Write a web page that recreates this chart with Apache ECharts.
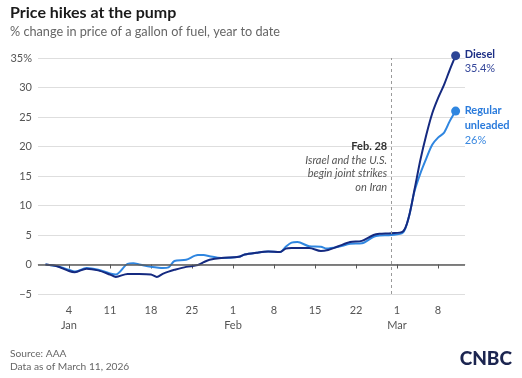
<!DOCTYPE html>
<html>
<head>
<meta charset="utf-8">
<script src="https://cdn.jsdelivr.net/npm/echarts@6/dist/echarts.min.js"></script>
<style>
html,body{margin:0;padding:0;background:#fff;}
#c{width:522px;height:378px;}
</style>
</head>
<body>
<div id="c"></div>
<script>
// Day of year (Dec 31 = 0, Jan 1 = 1, ... Mar 11 = 70)
var days = [0,2,4,5,7,9,11,12,14,15,16,18,19,20,21,22,24,26,27,28,30,33,34,36,38,40,41,42,43,45,47,48,50,52,54,56,57,59,61,62,63,64,65,66,67,68,69,70];
var diesel = [0,-0.3,-1.1,-1.3,-0.7,-1.0,-1.7,-2.1,-1.6,-1.6,-1.6,-1.7,-2.1,-1.6,-1.2,-0.9,-0.4,-0.1,0.4,0.8,1.1,1.3,1.7,2.0,2.2,2.1,2.7,2.8,2.8,2.8,2.3,2.4,3.1,3.8,4.0,5.0,5.2,5.3,5.6,8.0,12.8,17.8,22.0,25.6,28.2,30.4,33.0,35.4];
var regular = [0,-0.3,-0.9,-1.2,-0.6,-0.9,-1.5,-1.7,0.1,0.2,0.0,-0.4,-0.5,-0.6,-0.5,0.6,0.8,1.6,1.6,1.4,1.1,1.3,1.7,2.0,2.2,2.1,3.0,3.7,3.8,3.1,3.0,2.7,3.0,3.5,3.6,4.7,4.9,5.0,5.4,8.0,12.5,15.5,18.0,20.3,21.5,22.3,24.3,26.0];
var tickDays = [4,11,18,25,32,39,46,53,60,67];
var tickLabels = ['4\nJan','11','18','25','1\nFeb','8','15','22','1\nMar','8'];
var eventDay = 59;

var FONT = 'Lato, "Open Sans", sans-serif';
var DIESEL_C = '#152a80';
var REG_C = '#2f86e0';
var LAST = days.length - 1;

function pairs(v){ return days.map(function(d,i){ return [d, v[i]]; }); }
function endDot(val, params){ return params.dataIndex === LAST ? 9 : 0; }

var chart = echarts.init(document.getElementById('c'), null, {renderer:'canvas'});
var option = {
  animation:false,
  textStyle:{fontFamily:FONT},
  grid:{left:38, right:57, top:58, bottom:84, containLabel:false},
  xAxis:{
    type:'value', min:-1.28, max:71.6,
    splitLine:{show:false},
    axisLine:{show:true, lineStyle:{color:'#d9d9d9', width:1}},
    axisTick:{show:true, customValues:tickDays, length:4, lineStyle:{color:'#555'}},
    axisLabel:{customValues:tickDays, color:'#555', fontSize:11, fontFamily:FONT, margin:9, lineHeight:15,
      formatter:function(v){ var i = tickDays.indexOf(v); return i>=0 ? tickLabels[i] : ''; }}
  },
  yAxis:{
    type:'value', min:-5, max:35, interval:5,
    axisLine:{show:false}, axisTick:{show:false},
    splitLine:{show:true, lineStyle:{color:'#dedede', width:1}},
    axisLabel:{color:'#555', fontSize:11, fontFamily:FONT, margin:6,
      formatter:function(v){ if(v===35) return '35%'; if(v<0) return '\u2212'+Math.abs(v); return ''+v; }}
  },
  series:[
    {
      name:'Regular unleaded', type:'line', data:pairs(regular), smooth:0.3, clip:false,
      showSymbol:true, showAllSymbol:true, symbol:'circle', symbolSize:endDot,
      lineStyle:{color:REG_C, width:2}, itemStyle:{color:REG_C, borderWidth:0}, z:3,
      markLine:{silent:true, symbol:['none','none'], label:{show:false},
        data:[
          {yAxis:0, lineStyle:{color:'#5a5a5a', width:1.5, type:'solid'}},
          {xAxis:eventDay, lineStyle:{color:'#9a9a9a', width:1, type:[3,3]}}
        ]}
    },
    {
      name:'Diesel', type:'line', data:pairs(diesel), smooth:0.3, clip:false,
      showSymbol:true, showAllSymbol:true, symbol:'circle', symbolSize:endDot,
      lineStyle:{color:DIESEL_C, width:2}, itemStyle:{color:'#2c4596', borderWidth:0}, z:4
    }
  ]
};
chart.setOption(option);

var dEnd = chart.convertToPixel({gridIndex:0}, [days[LAST], diesel[LAST]]);
var rEnd = chart.convertToPixel({gridIndex:0}, [days[LAST], regular[LAST]]);
var ev = chart.convertToPixel({gridIndex:0}, [eventDay, 20]);

chart.setOption({
  graphic:[
    {type:'text', left:10, top:5, style:{text:'Price hikes at the pump', font:'bold 16px '+FONT, fill:'#1a1a1a'}},
    {type:'text', left:10, top:25, style:{text:'% change in price of a gallon of fuel, year to date', font:'12.7px '+FONT, fill:'#666'}},
    {type:'text', left:10, top:347, style:{text:'Source: AAA\nData as of March 11, 2026', font:'10.2px '+FONT, fill:'#666', lineHeight:13}},
    {type:'text', right:10, top:349, style:{text:'CNBC', font:'900 19px '+FONT, fill:'#1c2550'}},
    {type:'text', x:dEnd[0]+9, y:dEnd[1]-8, style:{text:'{a|Diesel}\n{b|35.4%}', fill:DIESEL_C,
      rich:{a:{font:'bold 11px '+FONT, fill:'#1d2f85', lineHeight:14}, b:{font:'11px '+FONT, fill:'#34469a', lineHeight:14}}}},
    {type:'text', x:rEnd[0]+9, y:rEnd[1]-8, style:{text:'{a|Regular}\n{a|unleaded}\n{b|26%}', fill:REG_C,
      rich:{a:{font:'bold 11px '+FONT, fill:'#2a7bdc', lineHeight:15}, b:{font:'11px '+FONT, fill:'#3a88e0', lineHeight:15}}}},
    {type:'text', x:ev[0]-4, y:ev[1]-7, style:{text:'{a|Feb. 28}\n{b|Israel and the U.S.}\n{b|begin joint strikes}\n{b|on Iran}', align:'right',
      rich:{a:{font:'bold 11px '+FONT, fill:'#333', lineHeight:14.5, align:'right'}, b:{font:'italic 11px '+FONT, fill:'#555', lineHeight:13.3, align:'right'}}}}
  ]
});
</script>
</body>
</html>
